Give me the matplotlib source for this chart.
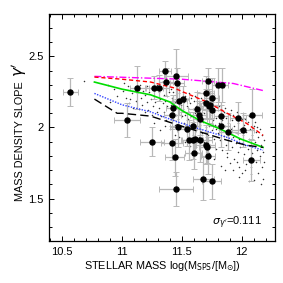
import matplotlib
matplotlib.use("Agg")
import matplotlib.pyplot as plt
import numpy as np
from matplotlib.ticker import MultipleLocator

plt.rcParams["font.family"] = ["Liberation Sans", "DejaVu Sans"]

# lens galaxies with error bars
obs_x = [10.57, 11.04, 11.13, 11.25, 11.27, 11.31, 11.36, 11.37, 11.42, 11.42,
         11.43, 11.44, 11.45, 11.46, 11.45, 11.47, 11.48, 11.51, 11.54, 11.56,
         11.59, 11.59, 11.60, 11.61, 11.63, 11.64, 11.65, 11.65, 11.68, 11.70,
         11.70, 11.70, 11.71, 11.72, 11.72, 11.73, 11.74, 11.75, 11.75, 11.75,
         11.80, 11.83, 11.83, 11.84, 11.89, 11.97, 12.01, 12.08, 12.09]
obs_y = [2.25, 2.05, 2.28, 1.90, 2.28, 2.28, 2.40, 2.32, 1.89, 2.09,
         2.14, 1.79, 2.36, 2.31, 1.57, 2.00, 2.19, 2.20, 1.99, 1.91,
         2.01, 1.91, 1.82, 1.92, 2.13, 2.09, 1.91, 2.06, 1.64, 2.24,
         2.17, 1.88, 1.86, 1.80, 2.33, 2.15, 2.16, 2.12, 2.21, 1.62,
         2.30, 2.01, 2.08, 2.30, 1.97, 2.07, 1.98, 1.77, 2.09]
obs_xerr = [0.06, 0.11, 0.06, 0.10, 0.07, 0.08, 0.05, 0.06, 0.09, 0.07,
            0.06, 0.08, 0.10, 0.06, 0.14, 0.07, 0.06, 0.05, 0.08, 0.07,
            0.06, 0.09, 0.07, 0.06, 0.08, 0.07, 0.10, 0.06, 0.09, 0.07,
            0.06, 0.08, 0.07, 0.06, 0.05, 0.07, 0.06, 0.08, 0.06, 0.08,
            0.05, 0.07, 0.06, 0.05, 0.08, 0.07, 0.09, 0.07, 0.08]
obs_yerr = [0.10, 0.12, 0.15, 0.10, 0.08, 0.09, 0.07, 0.10, 0.12, 0.10,
            0.09, 0.13, 0.19, 0.11, 0.12, 0.14, 0.10, 0.09, 0.12, 0.14,
            0.10, 0.13, 0.11, 0.09, 0.12, 0.10, 0.15, 0.11, 0.15, 0.12,
            0.10, 0.14, 0.11, 0.13, 0.09, 0.12, 0.10, 0.11, 0.14, 0.12,
            0.12, 0.15, 0.10, 0.12, 0.13, 0.11, 0.12, 0.15, 0.18]

# simulated galaxies (small dots)
sim_x = [10.68, 10.88, 10.90, 10.93, 10.96,
         11.01, 11.02, 11.03, 11.05, 11.06, 11.07, 11.08, 11.09,
         11.11, 11.12, 11.13, 11.14, 11.15, 11.16, 11.17, 11.18, 11.19, 11.19,
         11.21, 11.21, 11.22, 11.23, 11.24, 11.25, 11.25, 11.26, 11.27, 11.28, 11.29, 11.29, 11.27,
         11.31, 11.31, 11.32, 11.33, 11.33, 11.34, 11.35, 11.35, 11.36, 11.37, 11.37, 11.38, 11.38,
         11.39, 11.39, 11.32, 11.36,
         11.41, 11.41, 11.42, 11.42, 11.43, 11.43, 11.44, 11.44, 11.45, 11.45, 11.46, 11.46, 11.47,
         11.47, 11.48, 11.48, 11.49, 11.49, 11.50, 11.50, 11.44, 11.48,
         11.51, 11.51, 11.52, 11.52, 11.53, 11.53, 11.54, 11.54, 11.55, 11.55, 11.56, 11.56, 11.57,
         11.57, 11.58, 11.58, 11.59, 11.59, 11.60, 11.60, 11.53, 11.57, 11.55, 11.58,
         11.61, 11.61, 11.62, 11.62, 11.63, 11.63, 11.64, 11.64, 11.65, 11.65, 11.66, 11.66, 11.67,
         11.67, 11.68, 11.68, 11.69, 11.69, 11.70, 11.70, 11.62, 11.66, 11.68, 11.64, 11.67,
         11.71, 11.71, 11.72, 11.72, 11.73, 11.73, 11.74, 11.74, 11.75, 11.75, 11.76, 11.76, 11.77,
         11.77, 11.78, 11.78, 11.79, 11.79, 11.80, 11.80, 11.73, 11.77, 11.75, 11.79,
         11.81, 11.81, 11.82, 11.82, 11.83, 11.83, 11.84, 11.84, 11.85, 11.85, 11.86, 11.86, 11.87,
         11.87, 11.88, 11.88, 11.89, 11.89, 11.90, 11.90, 11.83, 11.86, 11.88,
         11.91, 11.91, 11.92, 11.92, 11.93, 11.93, 11.94, 11.94, 11.95, 11.95, 11.96, 11.96, 11.97,
         11.97, 11.98, 11.98, 11.99, 11.99, 12.00, 12.00, 11.93, 11.96, 11.98,
         12.01, 12.01, 12.02, 12.02, 12.03, 12.03, 12.04, 12.04, 12.05, 12.05, 12.06, 12.06, 12.07,
         12.07, 12.08, 12.08, 12.09, 12.09, 12.10, 12.10, 12.03, 12.06, 12.08,
         12.11, 12.11, 12.12, 12.12, 12.13, 12.13, 12.14, 12.14, 12.15, 12.15, 12.16, 12.16, 12.17,
         12.17, 12.18, 12.18, 12.19, 12.19]
sim_y = [2.33, 2.30, 2.18, 2.27, 2.22,
         2.26, 2.31, 2.21, 2.29, 2.17, 2.20, 2.24, 2.14,
         2.28, 2.19, 2.24, 2.13, 2.30, 2.21, 2.16, 2.26, 2.11, 2.23,
         2.29, 2.18, 2.12, 2.25, 2.20, 2.09, 2.27, 2.15, 2.22, 2.18, 2.30, 2.11, 2.03,
         2.25, 2.14, 2.20, 2.08, 2.27, 2.17, 2.23, 2.11, 2.19, 2.05, 2.28, 2.15, 2.22,
         2.09, 2.25, 1.98, 2.01,
         2.27, 2.16, 2.21, 2.05, 2.12, 2.25, 2.18, 2.02, 2.09, 2.23, 2.14, 2.28, 2.19,
         2.06, 2.11, 2.24, 2.16, 2.01, 2.21, 2.08, 1.95, 1.93,
         2.25, 2.13, 2.18, 2.03, 2.22, 2.09, 2.15, 1.97, 2.20, 2.06, 2.11, 2.24, 2.01,
         2.17, 2.08, 2.21, 2.13, 1.95, 2.19, 2.04, 1.90, 1.87, 2.14, 2.00,
         2.22, 2.10, 2.15, 1.98, 2.19, 2.05, 2.12, 1.93, 2.17, 2.02, 2.08, 2.21, 1.96,
         2.14, 2.04, 2.18, 2.10, 1.90, 2.16, 2.00, 1.86, 1.82, 1.88, 2.07, 2.11,
         2.19, 2.07, 2.12, 1.95, 2.16, 2.01, 2.09, 1.88, 2.14, 1.98, 2.05, 2.18, 1.92,
         2.11, 2.02, 2.15, 2.07, 1.85, 2.12, 1.96, 1.82, 1.78, 1.93, 1.99,
         2.15, 2.03, 2.09, 1.91, 2.13, 1.97, 2.05, 1.84, 2.11, 1.94, 2.01, 2.14, 1.88,
         2.07, 1.98, 1.79, 2.03, 1.91, 2.09, 1.75, 1.73, 1.70, 1.82,
         2.12, 1.99, 2.05, 1.86, 2.09, 1.93, 2.01, 1.78, 2.07, 1.89, 1.96, 2.11, 1.83,
         2.03, 1.92, 1.72, 1.99, 1.86, 2.06, 1.68, 1.70, 1.76, 1.65,
         2.09, 1.95, 2.02, 1.81, 2.06, 1.88, 1.97, 1.74, 2.04, 1.85, 1.92, 2.08, 1.78,
         1.99, 1.87, 1.67, 1.95, 1.82, 2.01, 1.63, 1.70, 1.62, 1.72,
         2.04, 1.90, 1.97, 1.76, 2.00, 1.84, 1.93, 1.68, 1.99, 1.80, 1.88, 1.60, 1.72,
         1.95, 1.83, 1.64, 1.91, 1.76]

# model curves
magenta_x = [10.77, 11.50, 11.93, 12.18]
magenta_y = [2.36, 2.34, 2.31, 2.26]
red_x = [10.77, 11.00, 11.24, 11.43, 11.54, 11.71, 11.88, 12.04, 12.18]
red_y = [2.355, 2.34, 2.32, 2.28, 2.24, 2.18, 2.10, 2.03, 1.945]
green_x = [10.77, 11.00, 11.24, 11.40, 11.50, 11.65, 11.82, 11.99, 12.18]
green_y = [2.32, 2.27, 2.23, 2.18, 2.12, 2.05, 1.99, 1.92, 1.86]
blue_x = [10.77, 11.00, 11.24, 11.46, 11.65, 11.88, 12.04, 12.18]
blue_y = [2.24, 2.16, 2.11, 2.04, 1.99, 1.93, 1.875, 1.84]
black_x = [10.77, 10.96, 11.00, 11.24, 11.46, 11.65, 11.88, 12.04, 12.18]
black_y = [2.20, 2.10, 2.10, 2.08, 2.02, 1.97, 1.91, 1.875, 1.86]

fig = plt.figure(figsize=(2.83, 2.83), dpi=100)
ax = fig.add_axes([0.173, 0.148, 0.799, 0.803])

ax.scatter(sim_x, sim_y, s=1.2, c="#333333", marker="o", linewidths=0, zorder=2)

ax.errorbar(obs_x, obs_y, xerr=obs_xerr, yerr=obs_yerr, fmt="none",
            ecolor="#b8b8b8", elinewidth=0.9, capsize=2, capthick=0.7, zorder=3)

ax.plot(magenta_x, magenta_y, color="#ff00ff", lw=1.0, ls=(0, (5, 1.5, 1, 1.5)), zorder=4)
ax.plot(red_x, red_y, color="#ff0000", lw=1.0, ls=(0, (3, 2)), zorder=4)
ax.plot(green_x, green_y, color="#00dd00", lw=1.2, ls="-", zorder=4)
ax.plot(blue_x, blue_y, color="#3344ff", lw=1.0, ls=(0, (1, 1)), zorder=4)
ax.plot(black_x, black_y, color="black", lw=1.0, ls=(0, (6, 3)), zorder=4)

ax.plot(obs_x, obs_y, "o", color="black", ms=3.6, zorder=5)

ax.set_xlim(10.39, 12.28)
ax.set_ylim(1.2, 2.8)
ax.xaxis.set_minor_locator(MultipleLocator(0.1))
ax.yaxis.set_minor_locator(MultipleLocator(0.1))
ax.set_xticks([10.5, 11, 11.5, 12])
ax.set_xticklabels(["10.5", "11", "11.5", "12"])
ax.set_yticks([1.5, 2, 2.5])
ax.set_yticklabels(["1.5", "2", "2.5"])
ax.tick_params(which="both", direction="in", top=True, right=True, labelsize=8, width=0.7)
ax.tick_params(which="major", length=3.5, pad=4)
ax.tick_params(which="minor", length=2)
for sp in ax.spines.values():
    sp.set_linewidth(0.9)

ax.set_xlabel(r"STELLAR MASS log(M$_{\rm SPS}$/[M$_{\odot}$])", fontsize=7.8, labelpad=2)
# y label split so the gamma can be drawn larger, as in the original
fig.text(0.072, 0.50, "MASS DENSITY SLOPE", rotation=90, fontsize=7.8,
         ha="center", va="center")
fig.text(0.068, 0.755, r"$\gamma'$", rotation=90, fontsize=11,
         ha="center", va="center")
ax.text(11.96, 1.33, r"$\sigma_{\gamma'}$=0.111", fontsize=8, ha="center", va="center")

fig.savefig("out.png", dpi=100)
